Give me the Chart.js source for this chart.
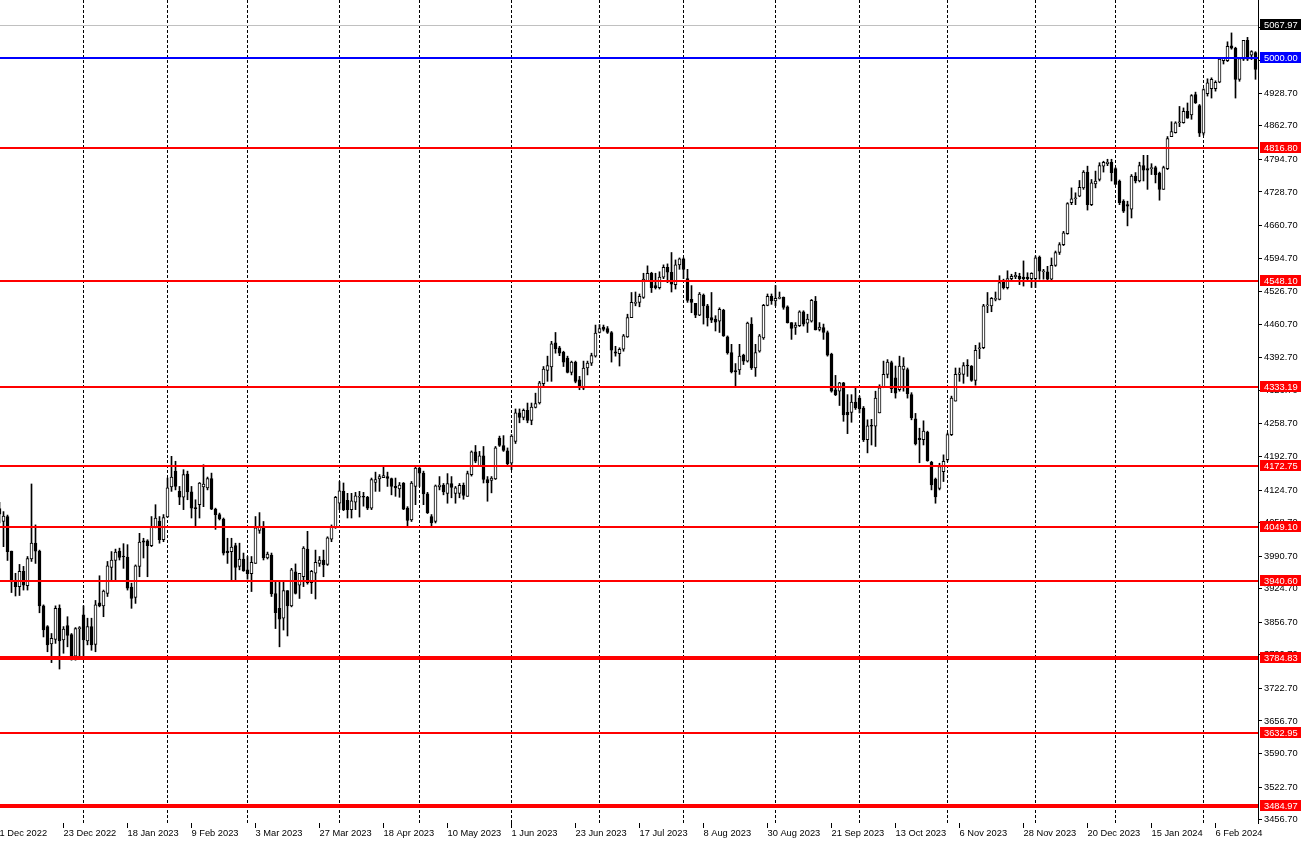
<!DOCTYPE html>
<html>
<head>
<meta charset="utf-8">
<style>
  html,body{margin:0;padding:0;background:#fff;}
  canvas{display:block;}
</style>
<script src="https://cdn.jsdelivr.net/npm/chart.js@4.4.1/dist/chart.umd.min.js"></script>
</head>
<body>
<canvas id="c" width="1304" height="841"></canvas>
<script>
// ---------- DATA ----------
const opens = [
4087,4061,4071,4001,3939,3929,3960,3931,3985,4017,
4001,3890,3848,3813,3822,3885,3821,3850,3832,3788,
3844,3872,3819,3848,3812,3896,3890,3915,3968,3982,
4001,3991,3989,3928,3907,3970,4022,4022,4012,4050,
4062,4024,4070,4131,4163,4122,4110,4157,4121,4089,
4095,4131,4129,4148,4086,4075,4066,4001,4000,4012,
3970,3985,3963,3955,3976,4043,4048,3987,3993,3915,
3885,3865,3921,3890,3959,3932,3949,4005,3937,3956,
3976,3983,3974,4025,4049,4098,4122,4104,4085,4100,
4110,4112,4110,4088,4140,4147,4150,4152,4148,4132,
4127,4139,4088,4064,4132,4169,4159,4117,4071,4061,
4131,4135,4118,4138,4118,4118,4134,4112,4156,4202,
4174,4194,4146,4144,4147,4230,4215,4204,4179,4223,
4281,4272,4286,4266,4292,4301,4340,4367,4374,4423,
4413,4404,4392,4363,4384,4348,4331,4372,4382,4396,
4444,4455,4452,4444,4405,4401,4410,4435,4474,4503,
4505,4515,4549,4564,4539,4535,4556,4576,4566,4541,
4581,4593,4553,4511,4503,4479,4520,4498,4474,4471,
4467,4489,4435,4403,4367,4368,4398,4386,4461,4372,
4406,4433,4499,4517,4508,4513,4515,4496,4464,4454,
4458,4486,4463,4467,4507,4450,4454,4444,4400,4328,
4325,4342,4282,4282,4303,4311,4291,4227,4256,4254,
4281,4332,4359,4383,4352,4328,4369,4369,4318,4269,
4230,4227,4242,4181,4147,4128,4162,4186,4237,4305,
4359,4359,4377,4376,4347,4411,4413,4498,4498,4511,
4511,4547,4535,4553,4557,4558,4556,4556,4553,4553,
4597,4567,4567,4552,4580,4606,4622,4644,4707,4715,
4720,4737,4769,4703,4745,4754,4781,4786,4789,4776,
4751,4710,4703,4694,4761,4751,4782,4776,4776,4778,
4767,4734,4776,4841,4849,4869,4869,4892,4885,4926,
4904,4848,4928,4938,4938,4951,4995,4995,5025,5020,
4957,4998,5036,5006,5011
];
const highs = [
4100,4081,4074,4001,3956,3974,3970,3990,4137,4054,
4003,3892,3850,3834,3890,3892,3848,3868,3834,3846,
3848,3890,3865,3865,3901,3951,3922,3980,4000,4005,
4007,4016,4014,3936,3973,4037,4027,4024,4071,4095,
4071,4075,4149,4193,4183,4132,4166,4163,4132,4105,
4140,4176,4151,4159,4088,4078,4068,4027,4027,4017,
4017,3997,3990,3990,4071,4079,4061,3999,3997,3939,
3939,3939,3921,3966,3975,3956,4010,4041,3962,4003,
3990,4003,4030,4054,4112,4142,4139,4118,4118,4120,
4122,4120,4112,4149,4161,4156,4171,4161,4149,4149,
4140,4140,4091,4142,4173,4174,4163,4120,4075,4135,
4152,4138,4158,4152,4132,4138,4139,4163,4204,4215,
4203,4213,4152,4152,4213,4234,4235,4210,4237,4289,
4289,4289,4301,4301,4321,4345,4375,4396,4426,4444,
4416,4406,4396,4386,4386,4355,4386,4386,4402,4459,
4460,4459,4456,4446,4416,4413,4440,4481,4525,4526,
4522,4564,4579,4566,4564,4567,4581,4583,4606,4591,
4595,4595,4572,4539,4503,4525,4522,4501,4525,4478,
4494,4491,4437,4420,4381,4420,4400,4465,4474,4420,
4440,4501,4522,4522,4539,4526,4516,4498,4464,4464,
4488,4488,4481,4511,4517,4464,4461,4447,4402,4357,
4343,4343,4318,4318,4332,4315,4294,4267,4268,4325,
4338,4386,4389,4386,4376,4396,4393,4372,4322,4280,
4250,4265,4244,4183,4149,4179,4196,4240,4315,4372,
4372,4383,4389,4377,4418,4423,4501,4525,4515,4526,
4559,4552,4569,4562,4566,4564,4589,4565,4565,4599,
4599,4572,4578,4595,4609,4626,4649,4707,4737,4727,
4752,4772,4781,4754,4771,4788,4791,4795,4795,4778,
4753,4713,4710,4764,4768,4789,4803,4803,4786,4781,
4769,4781,4841,4871,4871,4902,4899,4909,4926,4931,
4906,4938,4958,4960,4954,4999,5001,5033,5051,5022,
5001,5036,5042,5015,5013
];
const lows = [
4058,4010,3982,3917,3910,3911,3922,3922,3980,3976,
3876,3827,3797,3775,3814,3762,3794,3807,3780,3780,
3787,3784,3811,3800,3797,3888,3868,3909,3943,3943,
3983,3966,3922,3885,3895,3949,3987,3949,4010,4048,
4017,4020,4069,4122,4125,4095,4085,4105,4068,4051,
4068,4091,4125,4085,4045,4064,3993,3976,3943,3943,
3963,3960,3944,3919,3976,4037,3983,3985,3909,3844,
3807,3841,3829,3888,3914,3905,3929,3934,3915,3904,
3970,3949,3972,4020,4047,4085,4083,4068,4068,4085,
4070,4092,4085,4085,4122,4122,4150,4132,4115,4112,
4110,4085,4051,4061,4095,4132,4095,4077,4051,4058,
4125,4115,4098,4109,4098,4109,4106,4112,4153,4180,
4173,4139,4102,4119,4146,4213,4203,4173,4166,4219,
4261,4267,4261,4257,4291,4299,4335,4345,4345,4402,
4397,4375,4362,4358,4342,4328,4328,4358,4377,4394,
4443,4447,4442,4384,4396,4376,4406,4434,4474,4498,
4496,4513,4549,4525,4532,4532,4553,4545,4526,4532,
4572,4553,4505,4484,4474,4478,4461,4457,4464,4447,
4444,4436,4400,4362,4335,4359,4379,4384,4369,4355,
4404,4430,4498,4501,4498,4512,4491,4463,4430,4440,
4456,4457,4444,4465,4449,4447,4430,4396,4323,4316,
4296,4264,4239,4262,4288,4281,4223,4200,4216,4213,
4281,4332,4352,4322,4311,4325,4325,4311,4267,4216,
4180,4216,4183,4125,4098,4125,4142,4183,4235,4305,
4345,4341,4355,4345,4337,4391,4411,4484,4486,4508,
4510,4532,4532,4548,4553,4541,4538,4548,4535,4535,
4552,4552,4550,4548,4578,4602,4620,4643,4703,4703,
4719,4734,4692,4701,4737,4751,4769,4782,4751,4744,
4703,4687,4660,4676,4747,4749,4751,4734,4764,4747,
4712,4734,4774,4841,4848,4861,4868,4878,4876,4908,
4841,4844,4923,4919,4933,4950,4988,4993,5018,4919,
4953,4995,4995,4997,4957
];
const closes = [
4076,4072,4000,3943,3929,3960,3932,3986,4017,4001,
3890,3841,3811,3824,3885,3819,3843,3830,3788,3844,
3846,3821,3848,3811,3892,3890,3920,3971,3983,3999,
3988,3989,3926,3905,3971,4019,4019,4012,4051,4068,
4024,4069,4129,4151,4132,4110,4156,4121,4088,4087,
4139,4137,4148,4086,4075,4066,3997,3998,4009,3968,
3985,3961,3955,3978,4048,4050,3987,3995,3914,3876,
3863,3921,3890,3963,3915,3956,4007,3937,3960,3978,
3983,3973,4028,4051,4110,4123,4085,4085,4103,4113,
4112,4110,4088,4146,4146,4152,4154,4148,4132,4129,
4135,4086,4063,4139,4169,4159,4117,4079,4058,4133,
4135,4121,4138,4130,4129,4134,4114,4158,4202,4183,
4194,4146,4139,4149,4210,4215,4205,4178,4234,4281,
4272,4286,4266,4293,4300,4342,4370,4377,4421,4411,
4402,4384,4363,4384,4345,4335,4372,4382,4397,4443,
4452,4450,4444,4408,4402,4410,4437,4474,4505,4505,
4517,4552,4564,4535,4535,4556,4576,4566,4542,4581,
4593,4572,4509,4505,4479,4522,4498,4474,4469,4465,
4491,4437,4403,4364,4364,4396,4386,4463,4372,4403,
4437,4499,4517,4508,4513,4515,4495,4464,4452,4459,
4486,4461,4471,4509,4449,4455,4444,4398,4325,4318,
4342,4277,4277,4303,4291,4289,4227,4255,4254,4311,
4332,4359,4384,4330,4321,4376,4376,4320,4271,4218,
4227,4244,4184,4135,4111,4172,4183,4237,4311,4359,
4362,4377,4376,4347,4408,4413,4498,4500,4513,4513,
4545,4535,4553,4558,4560,4553,4553,4553,4564,4595,
4568,4569,4552,4580,4606,4622,4646,4705,4715,4717,
4738,4769,4703,4747,4751,4782,4789,4789,4768,4744,
4707,4690,4700,4761,4751,4782,4773,4773,4778,4764,
4734,4778,4837,4851,4869,4871,4892,4878,4924,4909,
4848,4936,4950,4957,4951,4998,5001,5024,5020,4957,
4999,5036,4998,5013,4977
];

// date labels every 16 bars (bar index of each label)
const labelBars = [0,16,32,48,64,80,96,112,128,144,160,176,192,208,224,240,256,272,288,304];
const dateLabels = ["1 Dec 2022","23 Dec 2022","18 Jan 2023","9 Feb 2023","3 Mar 2023","27 Mar 2023",
  "18 Apr 2023","10 May 2023","1 Jun 2023","23 Jun 2023","17 Jul 2023","8 Aug 2023","30 Aug 2023",
  "21 Sep 2023","13 Oct 2023","6 Nov 2023","28 Nov 2023","20 Dec 2023","15 Jan 2024","6 Feb 2024"];
// first bar of each month (vertical grid)
const monthStartBars = [21,42,62,85,105,128,150,171,194,215,237,259,279,301];
// price axis tick values
const priceTicks = [3456.70,3522.70,3590.70,3656.70,3722.70,3790.70,3856.70,3924.70,3990.70,4058.70,
  4124.70,4192.70,4258.70,4326.70,4392.70,4460.70,4526.70,4594.70,4660.70,4728.70,4794.70,
  4862.70,4928.70,4994.70,5062.70];
// horizontal levels
const redLevels = [4816.80,4548.10,4333.19,4172.75,4049.10,3940.60,3784.83,3632.95,3484.97];
const blueLevel = 5000.00;
const priceLine = 5067.97;

// ---------- STYLE ----------
const FONT = "'Liberation Sans', Arial, sans-serif";
const FSIZE = 9.3;
const thickLevels = new Set([3784.83, 3484.97]);
const Y_MIN = 3450.0, Y_MAX = 5117.7;
const X_MIN = 0.125, X_MAX = opens.length - 1 + 0.625;

const idx = opens.map((_, i) => i);
const wickData = idx.map(i => ({x: i, y: [lows[i], highs[i]]}));
const bodyData = idx.map(i => ({x: i, y: [opens[i], closes[i]]}));
const bodyColors = idx.map(i => closes[i] >= opens[i] ? '#ffffff' : '#000000');

const overlay = {
  id: 'overlay',
  beforeDatasetsDraw(chart) {
    const {ctx, chartArea: a, scales: {x}} = chart;
    ctx.save();
    ctx.strokeStyle = '#000';
    ctx.lineWidth = 1;
    ctx.setLineDash([3, 2]);
    monthStartBars.forEach(b => {
      const px = Math.round(x.getPixelForValue(b) - 0.5) + 0.5;
      ctx.beginPath(); ctx.moveTo(px, a.top); ctx.lineTo(px, a.bottom); ctx.stroke();
    });
    ctx.restore();
  },
  afterDatasetsDraw(chart) {
    const {ctx, chartArea: a, scales: {y}} = chart;
    ctx.save();
    ctx.beginPath(); ctx.rect(a.left, a.top, a.right - a.left, a.bottom - a.top); ctx.clip();
    // grey current price line
    let py = Math.round(y.getPixelForValue(priceLine));
    ctx.fillStyle = '#c0c0c0';
    ctx.fillRect(a.left, py, a.right - a.left, 1);
    // blue
    py = Math.round(y.getPixelForValue(blueLevel));
    ctx.fillStyle = '#0000ff';
    ctx.fillRect(a.left, py - 1, a.right - a.left, 2);
    // red
    ctx.fillStyle = '#ff0000';
    redLevels.forEach(v => {
      const yy = Math.round(y.getPixelForValue(v));
      const w = thickLevels.has(v) ? 4 : 2;
      ctx.fillRect(a.left, yy - w / 2, a.right - a.left, w);
    });
    ctx.restore();
  },
  afterDraw(chart) {
    const {ctx, chartArea: a, scales: {y}} = chart;
    ctx.save();
    ctx.font = FSIZE + 'px ' + FONT;
    ctx.textBaseline = 'middle';
    ctx.textAlign = 'left';
    const box = (v, bg) => {
      const yy = Math.round(y.getPixelForValue(v));
      const t = v.toFixed(2);
      const w = Math.ceil(ctx.measureText(t).width) + 7;
      ctx.fillStyle = bg;
      ctx.fillRect(a.right + 2, yy - 6, w, 11);
      ctx.fillStyle = '#ffffff';
      ctx.fillText(t, a.right + 6, yy);
    };
    box(priceLine, '#000000');
    box(blueLevel, '#0000ff');
    redLevels.forEach(v => box(v, '#ff0000'));
    ctx.restore();
  }
};

new Chart(document.getElementById('c'), {
  type: 'bar',
  data: {
    datasets: [
      {data: wickData, backgroundColor: '#000000', borderWidth: 0, barThickness: 1, grouped: false, order: 2},
      {data: bodyData, backgroundColor: bodyColors, borderColor: '#000000', borderWidth: 1,
       borderSkipped: false, barThickness: 3, grouped: false, order: 1, minBarLength: 1}
    ]
  },
  options: {
    responsive: false,
    animation: false,
    devicePixelRatio: 1,
    layout: {padding: 0},
    events: [],
    plugins: {legend: {display: false}, tooltip: {enabled: false}},
    scales: {
      x: {
        type: 'linear', min: X_MIN, max: X_MAX, offset: false,
        afterBuildTicks: s => { s.ticks = labelBars.map(v => ({value: v})); },
        afterFit: s => { s.height = 18; s.paddingLeft = 0; s.paddingRight = 0; },
        ticks: {autoSkip: false, maxRotation: 0, minRotation: 0, align: 'start', padding: 0,
          color: '#000', font: {family: FONT, size: FSIZE}, callback: (v, i) => dateLabels[i]},
        grid: {offset: false, drawOnChartArea: false, drawTicks: true, tickLength: 5, color: '#000'},
        border: {display: false}
      },
      y: {
        position: 'right', min: Y_MIN, max: Y_MAX, beginAtZero: false,
        afterBuildTicks: s => { s.ticks = priceTicks.map(v => ({value: v})); },
        afterFit: s => { s.width = 46; s.paddingTop = 0; s.paddingBottom = 0; },
        ticks: {autoSkip: false, padding: 2, color: '#000', font: {family: FONT, size: FSIZE},
          callback: v => Number(v).toFixed(2)},
        grid: {drawOnChartArea: false, drawTicks: true, tickLength: 4, color: '#000'},
        border: {display: true, color: '#000', width: 1}
      }
    }
  },
  plugins: [overlay]
});
</script>
</body>
</html>
